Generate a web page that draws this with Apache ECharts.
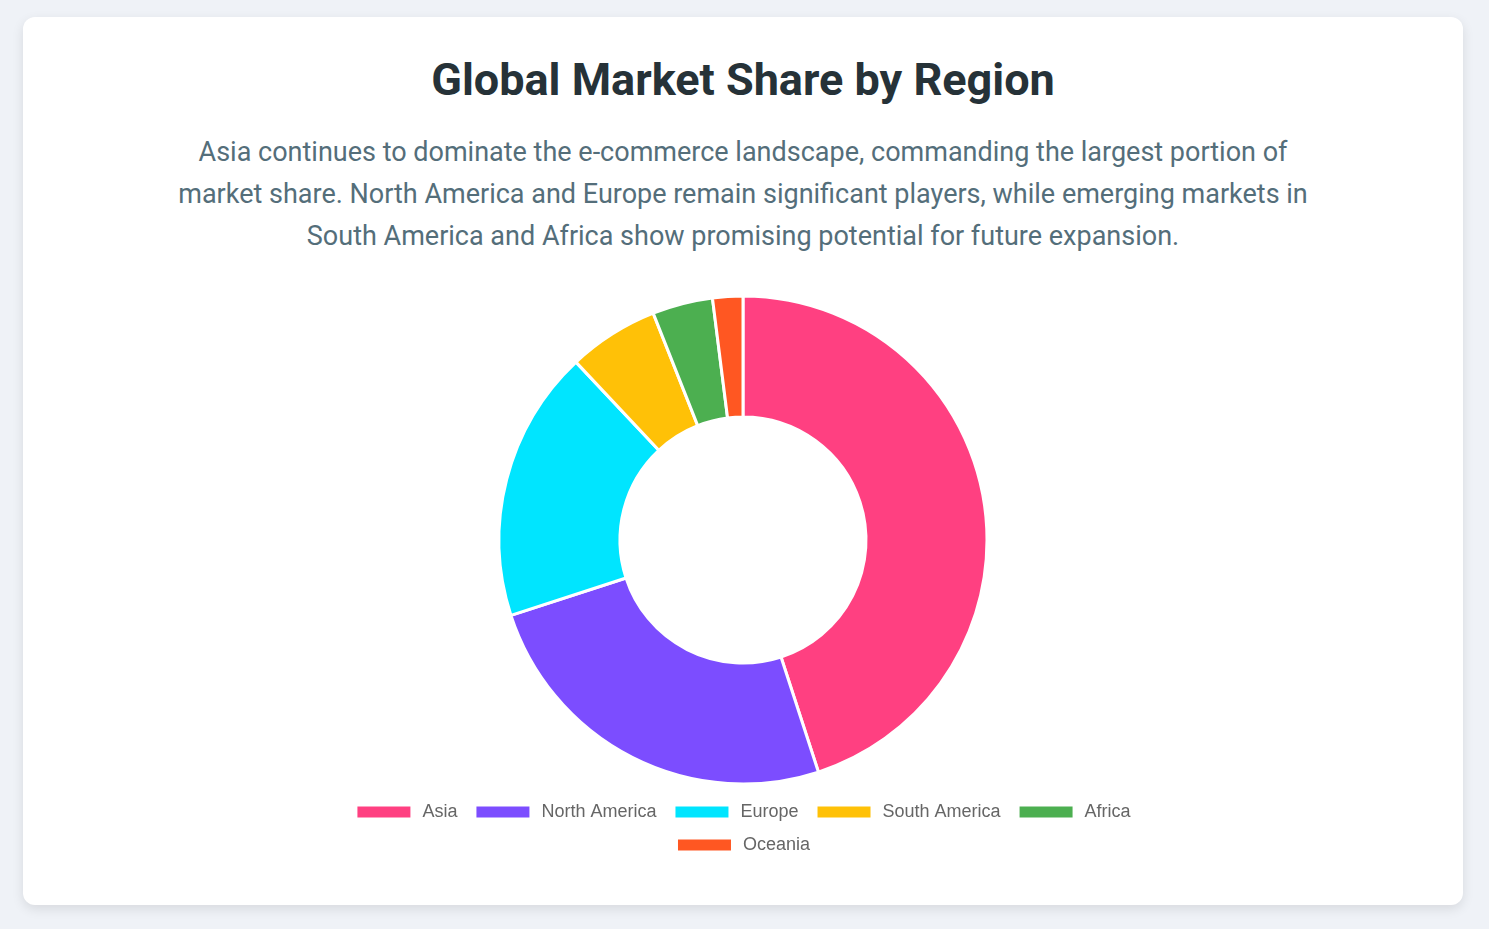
<!DOCTYPE html>
<html>
<head>
<meta charset="utf-8">
<title>Global Market Share by Region</title>
<script src="https://cdn.jsdelivr.net/npm/echarts@6/dist/echarts.min.js"></script>
<style>
  html, body { margin: 0; padding: 0; background: #eff2f7; }
  body { width: 1489px; height: 929px; position: relative; overflow: hidden; font-family: Roboto, "Noto Sans", sans-serif; }
  .card {
    position: absolute; left: 23px; top: 17px; width: 1440px; height: 888px;
    background: #fff; border-radius: 12px;
    box-shadow: 0 4px 12px rgba(0,0,0,0.10);
  }
  h1 {
    margin: 0; position: absolute; top: 36px; left: 0; width: 100%;
    text-align: center; font-size: 45px; font-weight: 700; color: #263238; line-height: 54px;
  }
  p.desc {
    margin: 0; position: absolute; top: 114px; left: 150px; width: 1140px;
    text-align: center; font-size: 27px; line-height: 42px; color: #546e7a;
  }
  #chart { position: absolute; left: 0; top: 270px; width: 1440px; height: 610px; }
</style>
</head>
<body>
<div class="card">
  <h1>Global Market Share by Region</h1>
  <p class="desc">Asia continues to dominate the e-commerce landscape, commanding the largest portion of market share. North America and Europe remain significant players, while emerging markets in South America and Africa show promising potential for future expansion.</p>
  <div id="chart"></div>
</div>
<script>
var regions = ['Asia', 'North America', 'Europe', 'South America', 'Africa', 'Oceania'];
var shares = [45, 25, 18, 6, 4, 2];
var colors = ['#FF4081', '#7C4DFF', '#00E5FF', '#FFC107', '#4CAF50', '#FF5722'];

var chart = echarts.init(document.getElementById('chart'));

var pieData = regions.map(function (name, i) {
  return { name: name, value: shares[i], itemStyle: { color: colors[i] } };
});

var legendText = { fontFamily: '"Liberation Sans", Arial, sans-serif', fontSize: 18, color: '#666', padding: [0, 0, 0, 6] };

chart.setOption({
  animation: false,
  tooltip: { trigger: 'item', formatter: '{b}: {c}%' },
  legend: [
    {
      data: regions.slice(0, 5),
      left: 'center', top: 511,
      itemWidth: 55, itemHeight: 13, itemGap: 17,
      icon: 'rect',
      textStyle: legendText
    },
    {
      data: regions.slice(5),
      left: 'center', top: 544,
      itemWidth: 55, itemHeight: 13, itemGap: 17,
      icon: 'rect',
      textStyle: legendText
    }
  ],
  series: [{
    type: 'pie',
    center: ['50%', 253],
    radius: [123, 244],
    startAngle: 90,
    clockwise: true,
    label: { show: false },
    labelLine: { show: false },
    itemStyle: { borderColor: '#fff', borderWidth: 3 },
    emphasis: { scale: false },
    data: pieData
  }]
});

window.addEventListener('resize', function () { chart.resize(); });
</script>
</body>
</html>
